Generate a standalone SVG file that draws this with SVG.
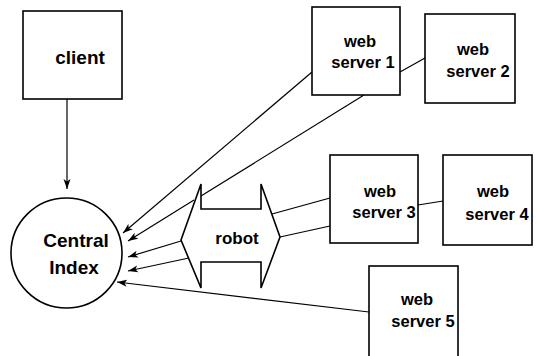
<svg xmlns="http://www.w3.org/2000/svg" width="537" height="356" viewBox="0 0 537 356">
<style>
.box{fill:#fff;stroke:#000;stroke-width:1.6}
.lbl{font-family:"Liberation Sans",Arial,sans-serif;font-weight:bold;fill:#000;text-anchor:middle}
.s17{font-size:16.5px}
.s19{font-size:19px}
.ln{stroke:#000;stroke-width:1.2;fill:none}
</style>
<defs>
<marker id="ah" markerUnits="userSpaceOnUse" markerWidth="10" markerHeight="8" refX="10" refY="4" orient="auto">
<path d="M0,0.5 L10,4 L0,7.5 L2.5,4 z" fill="#000"/>
</marker>
</defs>
<rect width="537" height="356" fill="#fff"/>
<g id="connectors">
<line class="ln" x1="67" y1="99" x2="67" y2="189" marker-end="url(#ah)"/>
<line class="ln" x1="312" y1="72" x2="123" y2="233" marker-end="url(#ah)"/>
<line class="ln" x1="364" y1="95" x2="201" y2="196"/>
<line class="ln" x1="194" y1="200" x2="128" y2="241" marker-end="url(#ah)"/>
<line class="ln" x1="181" y1="241" x2="128" y2="257" marker-end="url(#ah)"/>
<line class="ln" x1="189" y1="258" x2="128" y2="271" marker-end="url(#ah)"/>
<line class="ln" x1="369" y1="312" x2="117" y2="282" marker-end="url(#ah)"/>
<line class="ln" x1="272" y1="214" x2="330" y2="198"/>
<line class="ln" x1="280" y1="237" x2="330" y2="226"/>
<line class="ln" x1="400" y1="72" x2="425" y2="58"/>
<line class="ln" x1="418" y1="205" x2="443" y2="201"/>
</g>
<g id="client">
<rect class="box" x="23" y="11" width="99" height="88"/>
<text class="lbl s19" x="80" y="64">client</text>
</g>
<g id="central-index">
<ellipse class="box" cx="66.5" cy="253" rx="55.5" ry="55"/>
<text class="lbl s19" x="76" y="247">Central</text>
<text class="lbl s19" x="74" y="274">Index</text>
</g>
<g id="robot">
<polygon class="box" points="181,240 201,184 201,209 261,209 261,184 280,237 261,288 261,262 201,262 201,288"/>
<text class="lbl" x="237" y="244" style="font-size:17px">robot</text>
</g>
<g id="web-server-1">
<rect class="box" x="312" y="7" width="88" height="88"/>
<text class="lbl s17" x="360" y="47">web</text>
<text class="lbl s17" x="363" y="68">server 1</text>
</g>
<g id="web-server-2">
<rect class="box" x="425" y="14" width="90" height="89"/>
<text class="lbl s17" x="473" y="55">web</text>
<text class="lbl s17" x="478" y="77">server 2</text>
</g>
<g id="web-server-3">
<rect class="box" x="330" y="155" width="88" height="88"/>
<text class="lbl s17" x="380" y="197">web</text>
<text class="lbl s17" x="384" y="218">server 3</text>
</g>
<g id="web-server-4">
<rect class="box" x="443" y="155" width="89" height="90"/>
<text class="lbl s17" x="493" y="197">web</text>
<text class="lbl s17" x="497" y="220">server 4</text>
</g>
<g id="web-server-5">
<rect class="box" x="369" y="266" width="89" height="96"/>
<text class="lbl s17" x="417" y="305">web</text>
<text class="lbl s17" x="423" y="327">server 5</text>
</g>
</svg>
